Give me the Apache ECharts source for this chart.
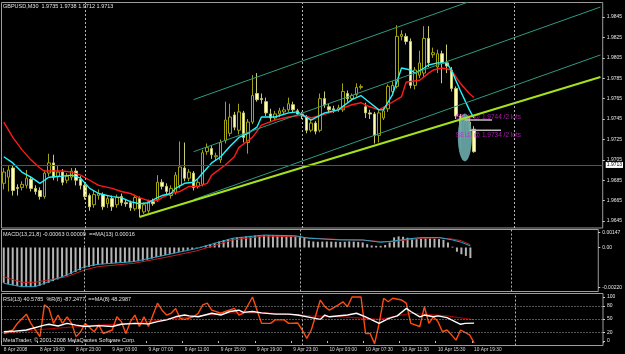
<!DOCTYPE html>
<html><head><meta charset="utf-8">
<script src="https://cdn.jsdelivr.net/npm/echarts@6/dist/echarts.min.js"></script>
<style>html,body{margin:0;padding:0;background:#000}#c{width:625px;height:354px}</style>
</head><body><div id="c"></div><script>
// ---------- DATA ----------
const symbolTitle = 'GBPUSD,M30  1.9735 1.9738 1.9712 1.9713';
const macdTitle = 'MACD(13,21,8) -0.00063 0.00009  ==MA(13) 0.00016';
const rsiTitle = 'RSI(13) 40.5785  %R(8) -87.2477  ==MA(8) 48.2987';
const copyright = 'MetaTrader, \u00A9 2001-2008 MetaQuotes Software Corp.';

// bar time axis: 30-minute bars from 8 Apr 15:00, one missing bar on 10 Apr
const firstBar = [2008, 3, 8, 15, 0];
const missingBars = ['10 Apr 05:00'];
const totalSlots = 133;
const shownTimes = ['8 Apr 15:00','8 Apr 19:00','8 Apr 23:00','9 Apr 03:00','9 Apr 07:00','9 Apr 11:00','9 Apr 15:00','9 Apr 19:00','9 Apr 23:00','10 Apr 03:00','10 Apr 07:30','10 Apr 11:30','10 Apr 15:30','10 Apr 19:30'];
const labelOverride = {'8 Apr 15:00': '8 Apr 2008'};

// candles: [open, close, low, high]
const ohlc = [
[1.9682,1.9693,1.9676,1.9697],[1.9688,1.9695,1.9674,1.9699],[1.9697,1.9675,1.9670,1.9699],[1.9678,1.9677,1.9670,1.9681],
[1.9678,1.9681,1.9675,1.9684],[1.9680,1.9687,1.9677,1.9695],[1.9686,1.9677,1.9674,1.9689],[1.9677,1.9674,1.9671,1.9680],
[1.9675,1.9669,1.9666,1.9678],[1.9669,1.9692,1.9667,1.9695],[1.9692,1.9702,1.9689,1.9711],[1.9702,1.9688,1.9685,1.9710],
[1.9689,1.9693,1.9684,1.9700],[1.9693,1.9683,1.9680,1.9696],[1.9685,1.9689,1.9682,1.9692],[1.9688,1.9694,1.9685,1.9697],
[1.9694,1.9685,1.9680,1.9697],[1.9686,1.9680,1.9676,1.9689],[1.9680,1.9669,1.9666,1.9682],[1.9670,1.9659,1.9655,1.9672],
[1.9661,1.9671,1.9658,1.9675],[1.9670,1.9672,1.9666,1.9676],[1.9671,1.9659,1.9656,1.9673],[1.9662,1.9667,1.9658,1.9670],
[1.9667,1.9659,1.9655,1.9670],[1.9661,1.9668,1.9658,1.9671],[1.9669,1.9663,1.9660,1.9672],[1.9663,1.9662,1.9659,1.9666],
[1.9663,1.9658,1.9655,1.9665],[1.9657,1.9668,1.9655,1.9671],[1.9667,1.9657,1.9649,1.9669],[1.9654,1.9661,1.9652,1.9663],
[1.9655,1.9664,1.9653,1.9666],[1.9664,1.9662,1.9660,1.9667],[1.9666,1.9683,1.9664,1.9690],[1.9683,1.9679,1.9676,1.9686],
[1.9679,1.9674,1.9671,1.9682],[1.9670,1.9677,1.9667,1.9680],[1.9673,1.9690,1.9671,1.9693],[1.9680,1.9698,1.9677,1.9723],
[1.9697,1.9687,1.9684,1.9722],[1.9687,1.9693,1.9684,1.9696],[1.9692,1.9678,1.9675,1.9694],[1.9679,1.9683,1.9677,1.9686],
[1.9681,1.9712,1.9679,1.9715],[1.9713,1.9717,1.9710,1.9721],[1.9716,1.9710,1.9706,1.9719],[1.9708,1.9709,1.9704,1.9712],
[1.9705,1.9722,1.9702,1.9725],[1.9724,1.9744,1.9721,1.9762],[1.9731,1.9747,1.9728,1.9760],[1.9749,1.9737,1.9734,1.9752],
[1.9734,1.9752,1.9730,1.9760],[1.9751,1.9727,1.9722,1.9753],[1.9722,1.9742,1.9711,1.9745],[1.9742,1.9768,1.9740,1.9788],
[1.9770,1.9764,1.9762,1.9790],[1.9765,1.9764,1.9760,1.9770],[1.9762,1.9751,1.9748,1.9766],[1.9750,1.9746,1.9742,1.9755],
[1.9746,1.9750,1.9744,1.9753],[1.9750,1.9753,1.9747,1.9756],[1.9752,1.9754,1.9749,1.9757],[1.9754,1.9760,1.9752,1.9766],
[1.9759,1.9754,1.9751,1.9762],[1.9753,1.9750,1.9748,1.9755],[1.9750,1.9748,1.9745,1.9752],[1.9747,1.9734,1.9731,1.9749],
[1.9734,1.9741,1.9732,1.9744],[1.9741,1.9733,1.9730,1.9743],[1.9734,1.9765,1.9732,1.9770],[1.9765,1.9759,1.9756,1.9772],
[1.9757,1.9754,1.9751,1.9760],[1.9755,1.9754,1.9751,1.9758],[1.9754,1.9756,1.9752,1.9759],[1.9754,1.9772,1.9752,1.9780],
[1.9770,1.9765,1.9762,1.9773],[1.9765,1.9768,1.9763,1.9770],[1.9769,1.9776,1.9767,1.9780],[1.9776,1.9777,1.9774,1.9779],
[1.9757,1.9751,1.9746,1.9761],[1.9751,1.9750,1.9745,1.9754],[1.9750,1.9729,1.9721,1.9752],[1.9729,1.9751,1.9722,1.9754],
[1.9746,1.9753,1.9744,1.9757],[1.9755,1.9777,1.9752,1.9779],[1.9772,1.9778,1.9768,1.9782],[1.9777,1.9826,1.9775,1.9837],
[1.9826,1.9828,1.9822,1.9832],[1.9826,1.9821,1.9818,1.9829],[1.9821,1.9778,1.9775,1.9824],[1.9778,1.9793,1.9774,1.9796],
[1.9788,1.9800,1.9785,1.9812],[1.9790,1.9824,1.9786,1.9836],[1.9824,1.9800,1.9796,1.9836],[1.9808,1.9810,1.9805,1.9815],
[1.9796,1.9809,1.9790,1.9813],[1.9809,1.9800,1.9780,1.9812],[1.9800,1.9797,1.9790,1.9818],[1.9793,1.9775,1.9772,1.9796],
[1.9775,1.9748,1.9745,1.9777],[1.9748,1.9730,1.9716,1.9750],[1.9731,1.9742,1.9725,1.9747],[1.9742,1.9736,1.9733,1.9746],
[1.9735,1.9713,1.9712,1.9738]
];

// moving averages on price [barIndex, value]
const fastMA = [[0,1.9708],[2,1.9702],[4,1.9693],[6,1.9688],[8,1.9682],[9,1.9685],[10,1.9688],[13,1.9689],[15,1.9690],[17,1.9687],[19,1.9677],[21,1.9672],[24,1.9669],[26,1.9668],[28,1.9664],[30,1.9662],[32,1.9663],[34,1.9668],[35,1.9670],[37,1.9672],[38,1.9677],[40,1.9682],[42,1.9683],[43,1.9687],[45,1.9697],[46,1.9702],[48,1.9708],[50,1.9718],[52,1.9727],[54,1.9731],[56,1.9737],[57,1.9747],[60,1.9747],[63,1.9751],[65,1.9752],[66,1.9749],[68,1.9744],[71,1.9751],[74,1.9754],[77,1.9764],[79,1.9768],[81,1.9761],[83,1.9754],[84,1.9754],[86,1.9769],[88,1.9795],[90,1.9793],[91,1.9790],[93,1.9795],[94,1.9798],[96,1.9800],[98,1.9800],[99,1.9793],[101,1.9773],[103,1.9754],[104,1.9746]];
const slowMA = [[0,1.9742],[2,1.9727],[4,1.9715],[6,1.9705],[8,1.9697],[9,1.9694],[13,1.9694],[15,1.9693],[17,1.9690],[19,1.9685],[21,1.9680],[24,1.9677],[26,1.9674],[28,1.9672],[30,1.9668],[32,1.9665],[34,1.9665],[35,1.9668],[37,1.9672],[39,1.9674],[41,1.9679],[43,1.9679],[45,1.9682],[46,1.9690],[49,1.9700],[51,1.9708],[52,1.9717],[55,1.9727],[57,1.9739],[60,1.9744],[63,1.9747],[66,1.9749],[68,1.9746],[72,1.9751],[74,1.9754],[77,1.9759],[79,1.9761],[81,1.9757],[83,1.9754],[85,1.9759],[88,1.9767],[89,1.9781],[92,1.9783],[94,1.9790],[95,1.9793],[97,1.9795],[99,1.9793],[101,1.9780],[103,1.9770],[104,1.9766]];

// drawn objects: [startBar, startPrice, endBar, endPrice]
const channelLines = [[42,1.9764,132,1.99058],[42,1.9713,132,1.98548],[42,1.9666,132,1.98078]];
const trendLine = [30,1.9649,132,1.97862];
const orderLevels = [[102,1.9744,108,1.9744],[103,1.9734,110,1.9734]];
const orderTexts = ['SELL @ 1.9744 /2 lots','SELL @ 1.9734 /2 lots'];
const orderTextAnchors = [[100,1.9747],[100,1.9729]];
const highlightEllipse = [102,1.9727];
const lastPrice = 1.9713;

// price scale labels
const priceTicks = [1.9845,1.9825,1.9805,1.9785,1.9765,1.9745,1.9725,1.9705,1.9685,1.9665,1.9645];

// MACD window
const macdHist = [
-0.00210,-0.00218,-0.00225,-0.00230,-0.00233,-0.00234,-0.00235,-0.00233,-0.00228,-0.00220,
-0.00210,-0.00200,-0.00190,-0.00180,-0.00168,-0.00157,-0.00146,-0.00135,-0.00124,-0.00116,
-0.00110,-0.00104,-0.00100,-0.00097,-0.00095,-0.00093,-0.00091,-0.00089,-0.00087,-0.00085,
-0.00082,-0.00078,-0.00073,-0.00066,-0.00058,-0.00052,-0.00046,-0.00040,-0.00033,-0.00026,
-0.00020,-0.00014,-0.00009,-0.00004,0.00004,0.00012,0.00020,0.00028,0.00036,0.00044,
0.00050,0.00055,0.00060,0.00063,0.00066,0.00069,0.00071,0.00073,0.00074,0.00074,
0.00074,0.00073,0.00072,0.00071,0.00070,0.00068,0.00064,0.00058,0.00040,0.00036,
0.00034,0.00035,0.00036,0.00035,0.00034,0.00033,0.00034,0.00036,0.00035,0.00033,
0.00030,0.00020,0.00012,0.00010,0.00010,0.00015,0.00030,0.00060,0.00066,0.00064,
0.00058,0.00052,0.00050,0.00052,0.00054,0.00053,0.00052,0.00050,0.00046,0.00030,
0.00005,-0.00025,-0.00040,-0.00050,-0.00063];
const macdLine = [[0,-0.00213],[4,-0.00233],[7,-0.00233],[10,-0.00203],[14,-0.00164],[18,-0.00114],[21,-0.00100],[29,-0.00084],[36,-0.00045],[43,-0.00006],[51,0.00055],[58,0.00074],[65,0.00070],[68,0.00055],[75,0.00045],[80,0.00045],[84,0.00031],[87,0.00039],[90,0.00051],[93,0.00059],[97,0.00059],[100,0.00045],[102,0.00031],[104,0.00009]];
const macdSignal = [[0,-0.00174],[4,-0.00207],[7,-0.00207],[10,-0.00193],[14,-0.00174],[18,-0.00134],[21,-0.00114],[29,-0.00094],[36,-0.00059],[43,-0.00020],[51,0.00045],[58,0.00068],[65,0.00064],[68,0.00057],[75,0.00047],[80,0.00044],[84,0.00035],[87,0.00036],[90,0.00046],[93,0.00055],[97,0.00058],[100,0.00050],[102,0.00040],[104,0.00016]];
const macdTickLabels = ['0.00147','0.00','-0.00220'];

// RSI / %R window
const wprLine = [[0,17],[2,25],[3,40],[5,61],[6,40],[8,10],[9,82],[10,74],[11,40],[12,59],[13,40],[14,55],[15,40],[16,10],[17,21],[18,40],[20,21],[21,36],[22,17],[24,25],[25,55],[26,44],[27,17],[28,44],[29,59],[30,33],[31,55],[32,33],[34,86],[35,70],[36,59],[37,63],[38,74],[39,51],[40,49],[42,55],[43,63],[44,82],[45,86],[46,70],[48,63],[49,67],[51,74],[52,59],[53,63],[55,100],[56,70],[57,40],[59,40],[60,48],[62,48],[63,40],[65,41],[66,25],[67,6],[68,25],[70,93],[71,78],[72,70],[74,82],[75,89],[76,78],[77,100],[78,100],[79,100],[80,17],[81,17],[82,-6],[83,40],[84,97],[85,89],[86,97],[88,93],[89,86],[90,40],[92,33],[93,78],[94,40],[95,55],[96,44],[97,21],[98,25],[99,14],[100,2],[101,25],[103,14],[104,-4]];
const rsiLine = [[0,21],[2,22],[5,25],[9,36],[10,38],[12,34],[14,40],[16,36],[18,33],[21,35],[24,33],[26,38],[29,40],[32,39],[34,44],[36,48],[38,55],[40,59],[41,57],[43,55],[46,63],[48,59],[50,67],[52,70],[53,65],[55,67],[57,64],[60,61],[63,61],[65,59],[68,53],[70,49],[71,59],[72,55],[76,59],[78,63],[80,55],[83,40],[85,51],[87,57],[89,74],[90,67],[92,55],[93,59],[95,55],[96,57],[98,53],[99,48],[101,38],[102,40],[104,40.6]];
const rsiMA = [[0,17],[7,25],[14,31],[21,36],[29,40],[36,49],[43,57],[50,64],[58,64],[68,57],[75,55],[83,49],[90,63],[98,57],[104,48.3]];
const rsiLevels = [80,50,20];
const rsiTicks = [100,80,50,20,0];

// ---------- BUILD ----------
const categories = [];
let t = Date.UTC.apply(null, firstBar);
while (categories.length < totalSlots) {
  const d = new Date(t);
  const s = d.getUTCDate() + ' Apr ' + String(d.getUTCHours()).padStart(2,'0') + ':' + String(d.getUTCMinutes()).padStart(2,'0');
  if (!missingBars.includes(s)) categories.push(s);
  t += 1800000;
}
const shownSet = new Set(shownTimes);
const daySeparators = categories.map((c,i)=>c.endsWith(' 00:00') ? i : -1).filter(i=>i>=0);

const FONT = 'Liberation Sans';
const priceMin = 1.96382, priceMax = 1.98592;
const macdMin = -0.002618, macdMax = 0.001071;
const macdStep = (macdMax - macdMin) / 62;
const macdLabelAt = [macdMax - 3 * macdStep, 0, macdMin + 4 * macdStep];
const rsiMin = -10.2, rsiMax = 107.9;

const grids = [
  {left: 1.5, right: 22, top: 2.5, height: 225.5},
  {left: 1.5, right: 22, top: 229.5, height: 62},
  {left: 1.5, right: 22, top: 293.5, height: 52}
].map(g => Object.assign(g, {show: true, borderColor: '#9c9c9c', borderWidth: 1, backgroundColor: 'transparent'}));

function xAxis(gi, showLabels) {
  return {
    type: 'category', gridIndex: gi, data: categories, boundaryGap: true,
    axisLine: {show: false}, splitLine: {show: false},
    axisTick: showLabels ? {show: true, interval: (i, v) => shownSet.has(v), length: 2, lineStyle: {color: '#bdbdbd'}} : {show: false},
    axisLabel: showLabels ? {show: true, interval: (i, v) => shownSet.has(v), formatter: v => labelOverride[v] || v,
      align: 'left', color: '#d8d8d8', fontSize: 4.8, fontFamily: FONT, margin: 2} : {show: false}
  };
}
const yLabel = {color: '#e6e6e6', fontSize: 5, fontFamily: FONT, margin: 4};
const sepLine = daySeparators.map(i => ({xAxis: i}));
const sepStyle = {type: [2, 2], color: '#b4b4b4', width: 1};

const segs = (arr) => [[arr[0], arr[1]], [arr[2], arr[3]]];
function macdLabel(v) {
  let best = 0, bd = Infinity;
  macdLabelAt.forEach((x, i) => { const d = Math.abs(x - v); if (d < bd) { bd = d; best = i; } });
  return macdTickLabels[best];
}

const series = [
  {type: 'candlestick', xAxisIndex: 0, yAxisIndex: 0, data: ohlc, barWidth: 3,
   itemStyle: {color: '#000000', color0: '#ffffb8', borderColor: '#a2a20c', borderColor0: '#c8c870', borderWidth: 1},
   markLine: {silent: true, symbol: ['none','none'], animation: false,
     label: {show: false}, lineStyle: sepStyle,
     data: sepLine.concat([{yAxis: lastPrice, lineStyle: {type: 'solid', color: '#246a6a', width: 1},
       label: {show: true, position: 'end', distance: 3, formatter: lastPrice.toFixed(4), color: '#000', backgroundColor: '#ffffff',
         fontSize: 5, fontFamily: FONT, padding: [1, 1, 0, 1]}}])}},
  {type: 'line', xAxisIndex: 0, yAxisIndex: 0, data: slowMA, showSymbol: false, lineStyle: {color: '#ff1a1a', width: 1.4}},
  {type: 'line', xAxisIndex: 0, yAxisIndex: 0, data: fastMA, showSymbol: false, lineStyle: {color: '#22f4ff', width: 1.4}},
  ...channelLines.map(c => ({type: 'line', xAxisIndex: 0, yAxisIndex: 0, data: segs(c), showSymbol: false, clip: true,
     lineStyle: {color: '#2f9a80', width: 1}})),
  {type: 'line', xAxisIndex: 0, yAxisIndex: 0, data: segs(trendLine), showSymbol: false, clip: true,
     lineStyle: {color: '#a6e21c', width: 2}},
  ...orderLevels.map(c => ({type: 'line', xAxisIndex: 0, yAxisIndex: 0, data: segs(c), showSymbol: false,
     lineStyle: {color: '#bdbdbd', width: 1.5}})),
  {type: 'scatter', xAxisIndex: 0, yAxisIndex: 0, data: orderTextAnchors, symbolSize: 0, silent: true,
   label: {show: true, position: 'right', distance: 0, formatter: p => orderTexts[p.dataIndex], color: '#d020d0', fontSize: 6.5, fontFamily: FONT}},
  {type: 'scatter', xAxisIndex: 0, yAxisIndex: 0, data: [highlightEllipse], symbol: 'circle', symbolSize: [14, 48], silent: true,
   itemStyle: {color: '#66a3a3', opacity: 0.95}},
  // MACD
  {type: 'bar', xAxisIndex: 1, yAxisIndex: 1, data: macdHist, barWidth: 2, itemStyle: {color: '#b4b4b4'},
   markLine: {silent: true, symbol: ['none','none'], label: {show: false}, lineStyle: sepStyle, data: sepLine}},
  {type: 'line', xAxisIndex: 1, yAxisIndex: 1, data: macdSignal, showSymbol: false, lineStyle: {color: '#c81e1e', width: 1}},
  {type: 'line', xAxisIndex: 1, yAxisIndex: 1, data: macdLine, showSymbol: false, lineStyle: {color: '#2aa6c8', width: 1}},
  // RSI window
  {type: 'line', xAxisIndex: 2, yAxisIndex: 2, data: rsiMA, showSymbol: false, lineStyle: {color: '#a00000', width: 1.2},
   markLine: {silent: true, symbol: ['none','none'], label: {show: false},
     data: sepLine.map(d => Object.assign({lineStyle: sepStyle}, d)).concat(rsiLevels.map(v => ({yAxis: v, lineStyle: {type: [1, 2], color: '#a8a8a8', width: 1}})))}},
  {type: 'line', xAxisIndex: 2, yAxisIndex: 2, data: wprLine, showSymbol: false, lineStyle: {color: '#ff4a10', width: 1.4}},
  {type: 'line', xAxisIndex: 2, yAxisIndex: 2, data: rsiLine, showSymbol: false, lineStyle: {color: '#ffffff', width: 1.4}}
];

const option = {
  backgroundColor: '#000000',
  animation: false,
  textStyle: {fontFamily: FONT},
  title: [
    {text: symbolTitle, left: 3, top: 3, padding: 0, textStyle: {color: '#e0e0e0', fontSize: 5.5, fontWeight: 'normal', fontFamily: FONT}},
    {text: macdTitle, left: 3, top: 231.5, padding: 0, textStyle: {color: '#e0e0e0', fontSize: 5.5, fontWeight: 'normal', fontFamily: FONT}},
    {text: rsiTitle, left: 3, top: 296.5, padding: 0, textStyle: {color: '#e0e0e0', fontSize: 5.5, fontWeight: 'normal', fontFamily: FONT}},
    {text: copyright, left: 3, top: 337.5, padding: 0, textStyle: {color: '#e0e0e0', fontSize: 5.5, fontWeight: 'normal', fontFamily: FONT}}
  ],
  grid: grids,
  xAxis: [xAxis(0, false), xAxis(1, false), xAxis(2, true)],
  yAxis: [
    {type: 'value', gridIndex: 0, position: 'right', min: priceMin, max: priceMax, scale: true,
     axisLine: {show: false}, splitLine: {show: false},
     axisTick: {show: true, customValues: priceTicks, length: 2, lineStyle: {color: '#cfcfcf'}},
     axisLabel: Object.assign({customValues: priceTicks, formatter: v => v.toFixed(4)}, yLabel)},
    {type: 'value', gridIndex: 1, position: 'right', min: macdMin, max: macdMax,
     axisLine: {show: false}, splitLine: {show: false},
     axisTick: {show: true, customValues: macdLabelAt, length: 2, lineStyle: {color: '#cfcfcf'}},
     axisLabel: Object.assign({customValues: macdLabelAt, formatter: v => macdLabel(v), showMinLabel: true, showMaxLabel: true}, yLabel)},
    {type: 'value', gridIndex: 2, position: 'right', min: rsiMin, max: rsiMax,
     axisLine: {show: false}, splitLine: {show: false},
     axisTick: {show: true, customValues: rsiTicks, length: 2, lineStyle: {color: '#cfcfcf'}},
     axisLabel: Object.assign({customValues: rsiTicks, formatter: v => String(v)}, yLabel)}
  ],
  series: series
};
const chart = echarts.init(document.getElementById('c'), null, {renderer: 'canvas'});
chart.setOption(option);
</script></body></html>
